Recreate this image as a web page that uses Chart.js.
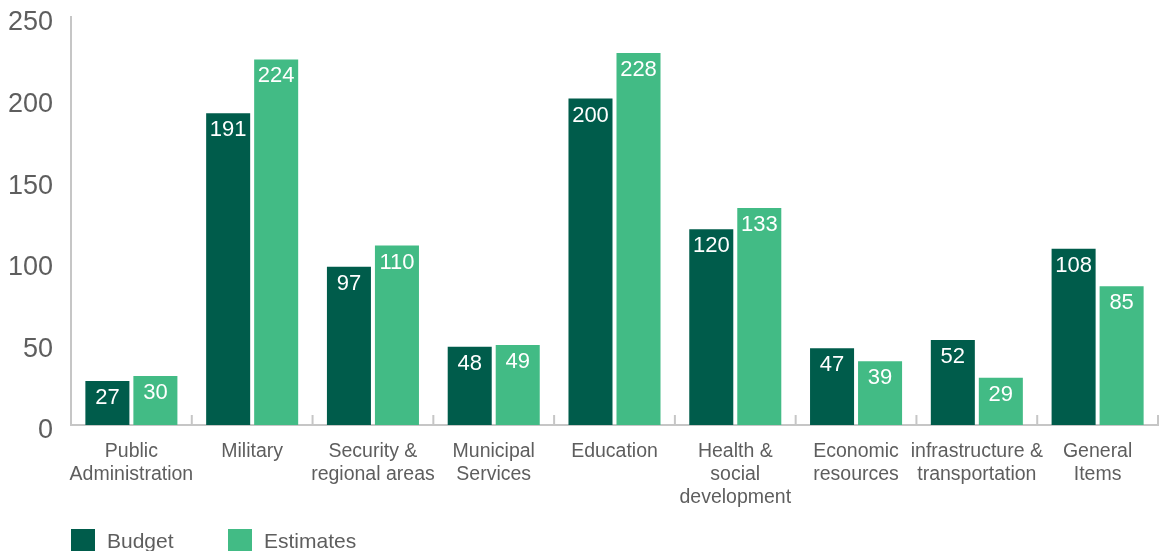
<!DOCTYPE html>
<html>
<head>
<meta charset="utf-8">
<script src="https://cdn.jsdelivr.net/npm/chart.js@4.4.1/dist/chart.umd.min.js"></script>
<style>
  html, body { margin: 0; padding: 0; background: #fff; }
  #wrap { position: relative; width: 1167px; height: 551px; overflow: hidden; }
  #c { position: absolute; left: 0; top: 0; }
  .lg { position: absolute; top: 529px; height: 24px; display: flex; align-items: center;
        font-family: "Liberation Sans", Arial, sans-serif; font-size: 21px; color: #5e5e5e; }
  .lg span.box { display: inline-block; width: 24px; height: 24px; margin-right: 12px; }
</style>
</head>
<body>
<div id="wrap">
  <canvas id="c" width="1167" height="551"></canvas>
  <div class="lg" style="left:71px"><span class="box" id="b0"></span><span id="t0"></span></div>
  <div class="lg" style="left:228px"><span class="box" id="b1"></span><span id="t1"></span></div>
</div>
<script>
const categories = [
  ["Public", "Administration"],
  ["Military"],
  ["Security &", "regional areas"],
  ["Municipal", "Services"],
  ["Education"],
  ["Health &", "social", "development"],
  ["Economic", "resources"],
  ["infrastructure &", "transportation"],
  ["General", "Items"]
];
const seriesNames = ["Budget", "Estimates"];
const budget = [27, 191, 97, 48, 200, 120, 47, 52, 108];
const estimates = [30, 224, 110, 49, 228, 133, 39, 29, 85];
const yTicks = [0, 50, 100, 150, 200, 250];

const colors = ["#005c4b", "#42bb85"];
const FONT = '"Liberation Sans", Arial, sans-serif';
const GREY = "#5e5e5e";
const AXIS = "#c6c6c6";

seriesNames.forEach((n, i) => {
  document.getElementById("b" + i).style.background = colors[i];
  document.getElementById("t" + i).textContent = n;
});

const valueLabels = {
  id: "valueLabels",
  afterDatasetsDraw(chart) {
    const ctx = chart.ctx;
    ctx.save();
    ctx.fillStyle = "#ffffff";
    ctx.font = "22px " + FONT;
    ctx.textAlign = "center";
    ctx.textBaseline = "top";
    chart.data.datasets.forEach((ds, di) => {
      chart.getDatasetMeta(di).data.forEach((bar, i) => {
        ctx.fillText(String(ds.data[i]), bar.x, bar.y + 6);
      });
    });
    ctx.restore();
  }
};

const innerTicks = {
  id: "innerTicks",
  afterDraw(chart) {
    const x = chart.scales.x, y = chart.scales.y;
    const ctx = chart.ctx;
    const base = y.getPixelForValue(0);
    const n = chart.data.labels.length;
    const w = (x.getPixelForValue(1) - x.getPixelForValue(0));
    ctx.save();
    ctx.strokeStyle = AXIS;
    ctx.lineWidth = 2;
    for (let i = 0; i < n; i++) {
      const px = x.getPixelForValue(i) + w / 2;
      ctx.beginPath();
      ctx.moveTo(px, base);
      ctx.lineTo(px, base - 10);
      ctx.stroke();
    }
    ctx.restore();
  }
};

new Chart(document.getElementById("c"), {
  type: "bar",
  data: {
    labels: categories,
    datasets: [
      { label: seriesNames[0], data: budget, backgroundColor: colors[0] },
      { label: seriesNames[1], data: estimates, backgroundColor: colors[1] }
    ]
  },
  options: {
    responsive: false,
    animation: false,
    layout: { padding: { left: 8, right: 9, top: 17, bottom: 27 } },
    datasets: { bar: { categoryPercentage: 0.795, barPercentage: 0.917 } },
    plugins: { legend: { display: false }, tooltip: { enabled: false } },
    scales: {
      x: {
        offset: true,
        grid: { display: false, drawTicks: false },
        border: { display: true, color: AXIS, width: 2 },
        ticks: { color: GREY, font: { family: FONT, size: 19.5, lineHeight: 1.18 }, padding: 15, maxRotation: 0, autoSkip: false },
        afterFit(scale) { scale.paddingLeft = 0; scale.paddingRight = 0; }
      },
      y: {
        min: 0, max: 250,
        afterBuildTicks(scale) { scale.ticks = yTicks.map(v => ({ value: v })); },
        grid: { display: false, drawTicks: false },
        border: { display: true, color: AXIS, width: 2 },
        ticks: { color: GREY, font: { family: FONT, size: 27 }, padding: 18, labelOffset: 6 },
        afterFit(scale) { scale.width = 63; scale.paddingTop = 0; scale.paddingBottom = 0; }
      }
    }
  },
  plugins: [valueLabels, innerTicks]
});
</script>
</body>
</html>
